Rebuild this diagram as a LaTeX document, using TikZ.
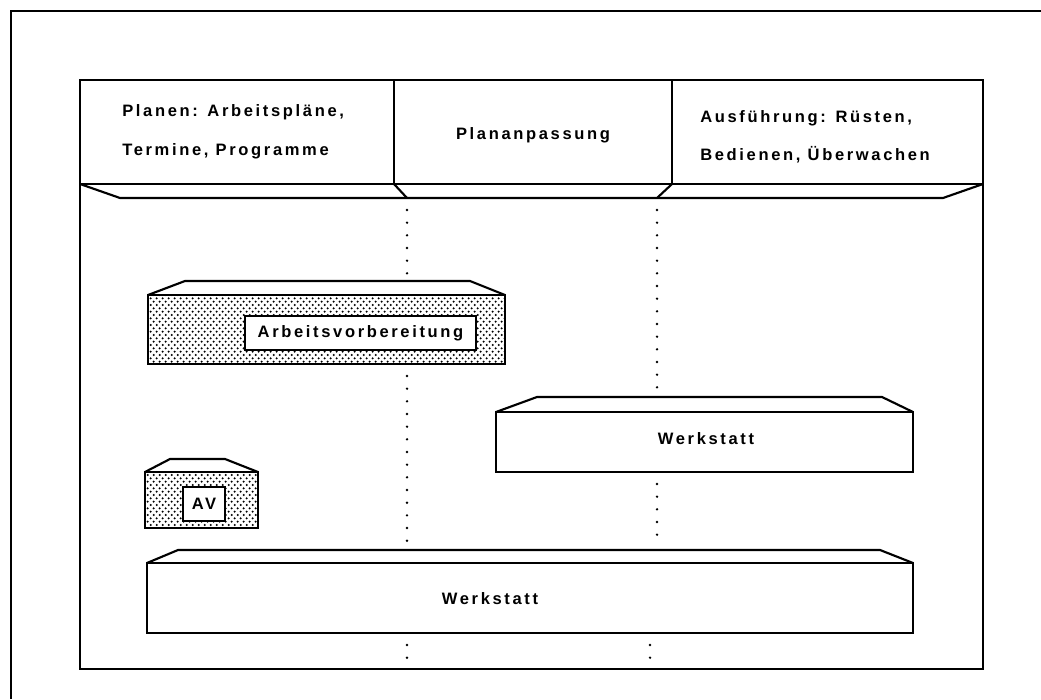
\documentclass[tikz,border=0pt]{standalone}
\usepackage{fontspec}
\setmainfont{Liberation Sans}[LetterSpace=16]
\usetikzlibrary{patterns}
\pgfdeclarepatternformonly{stipple}{\pgfqpoint{-1pt}{-1pt}}{\pgfqpoint{5.5pt}{6pt}}{\pgfqpoint{4.5pt}{5pt}}{%
  \pgfpathcircle{\pgfqpoint{0.5pt}{0.5pt}}{0.85pt}%
  \pgfpathcircle{\pgfqpoint{2.75pt}{3pt}}{0.85pt}%
  \pgfusepath{fill}%
}
\begin{document}
\begin{tikzpicture}[x=0.75pt,y=-0.75pt,
  frame/.style={line width=1.6pt},
  dotv/.style={line width=2pt, line cap=round, dash pattern=on 0pt off 9.5pt},
  lbl/.style={font=\fontsize{12.4}{14}\selectfont\bfseries, inner sep=0pt},
  lblbox/.style={lbl, draw, fill=white, line width=1.4pt},
  stip/.style={pattern=stipple}
]
\useasboundingbox (0,0) rectangle (1041,699);
% outer frame (cropped)
\draw[frame] (1041,11) -- (11,11) -- (11,699);
% inner frame
\draw[frame] (80,80) rectangle (983,669);
% header
\draw[frame] (80,184) -- (983,184);
\draw[frame] (394,80) -- (394,184);
\draw[frame] (672,80) -- (672,184);
\draw[frame] (80,184) -- (120,198) -- (943,198) -- (983,184);
\draw[frame] (394,184) -- (407,198);
\draw[frame] (672,184) -- (657,198);
% header texts
\node[lbl, anchor=base west] (h1a) at (122,116) {Planen: Arbeitspläne,};
\node[lbl, anchor=base west] (h1b) at (122,155) {Termine, Programme};
\node[lbl, anchor=base] (h2) at (533,139) {Plananpassung};
\node[lbl, anchor=base west] (h3a) at (700,122) {Ausführung: Rüsten,};
\node[lbl, anchor=base west] (h3b) at (700,160) {Bedienen, Überwachen};
% dotted phase lines
\draw[dotv] (407,210) -- (407,276);
\draw[dotv] (407,376) -- (407,545);
\draw[dotv] (407,645) -- (407,667);
\draw[dotv] (657,210) -- (657,392);
\draw[dotv] (657,484) -- (657,545);
\draw[dotv] (650,645) -- (650,667);
% Arbeitsvorbereitung slab
\fill[stip] (148,295) rectangle (505,364);
\draw[frame] (148,295) rectangle (505,364);
\draw[frame] (148,295) -- (185,281) -- (470,281) -- (505,295);
\node[lblbox, minimum width=173.25pt, minimum height=25.5pt] (avb) at (360.5,333) {Arbeitsvorbereitung};
% Werkstatt (middle right)
\draw[frame, fill=white] (496,412) rectangle (913,472);
\draw[frame] (496,412) -- (537,397) -- (882,397) -- (913,412);
\node[lbl, anchor=base] (w1) at (706,444) {Werkstatt};
% AV slab
\fill[stip] (145,472) rectangle (258,528);
\draw[frame] (145,472) rectangle (258,528);
\draw[frame] (145,472) -- (170,459) -- (225,459) -- (258,472);
\node[lblbox, minimum width=31.5pt, minimum height=25.5pt] (av) at (204,504) {AV};
% Werkstatt (bottom)
\draw[frame] (147,563) rectangle (913,633);
\draw[frame] (147,563) -- (178,550) -- (880,550) -- (913,563);
\node[lbl, anchor=base] (w2) at (490,604) {Werkstatt};
\end{tikzpicture}
\end{document}
